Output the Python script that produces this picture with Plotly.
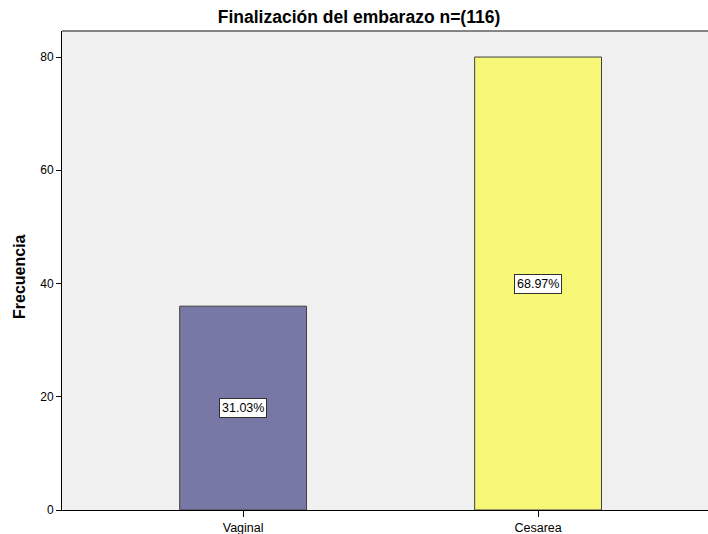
import plotly.graph_objects as go

categories = ["Vaginal", "Cesarea"]
counts = [36, 80]
percent_labels = ["31.03%", "68.97%"]
bar_colors = ["#7878a6", "#f8f878"]

W, H = 708, 534
L, R, T, B = 62, 0, 31, 24
pw, ph = W - L - R, H - T - B

fig = go.Figure()
fig.add_trace(go.Bar(
    x=categories, y=counts, width=0.43,
    marker=dict(color=bar_colors, line=dict(color="#404040", width=1)),
    showlegend=False, hoverinfo="skip",
))

for c, v, lab in zip(categories, counts, percent_labels):
    fig.add_annotation(x=c, y=v / 2, xref="x", yref="y", text=lab, showarrow=False,
                       bgcolor="white", bordercolor="#303030", borderwidth=1, borderpad=2,
                       font=dict(family="Liberation Sans, Arial", size=12.5, color="black"))

fig.add_annotation(x=(19 - L) / pw, y=(H - 277 - B) / ph, xref="paper", yref="paper",
                   xanchor="center", yanchor="middle",
                   text="<b>Frecuencia</b>", showarrow=False, textangle=-90,
                   font=dict(family="Liberation Sans, Arial", size=16, color="black"))

fig.update_layout(
    width=W, height=H,
    margin=dict(l=L, r=R, t=T, b=B, autoexpand=False),
    paper_bgcolor="white", plot_bgcolor="#f0f0f0",
    title=dict(text="<b>Finalización del embarazo n=(116)</b>", x=(359 - L) / pw, xref="paper",
               xanchor="center", y=1 - 17 / H, yanchor="middle",
               font=dict(family="Liberation Sans, Arial", size=17.5, color="black")),
    font=dict(family="Liberation Sans, Arial", size=12, color="black"),
    xaxis=dict(range=[-0.614, 1.576], showgrid=False, zeroline=False, automargin=False,
               showline=True, linecolor="black", linewidth=1,
               ticks="outside", ticklen=6, tickcolor="black",
               tickfont=dict(size=12.5)),
    yaxis=dict(range=[0, 84.6], tickvals=[0, 20, 40, 60, 80], showgrid=False, zeroline=False,
               automargin=False,
               showline=True, linecolor="black", linewidth=1,
               ticks="outside", ticklen=5, tickcolor="black",
               tickfont=dict(size=12)),
)
fig.add_shape(type="line", xref="paper", yref="paper", x0=0, x1=1, y0=1, y1=1,
              line=dict(color="#606060", width=1.5))

fig.write_html("out.html", config={"displayModeBar": False},
               post_script="document.body.style.margin='0';")
